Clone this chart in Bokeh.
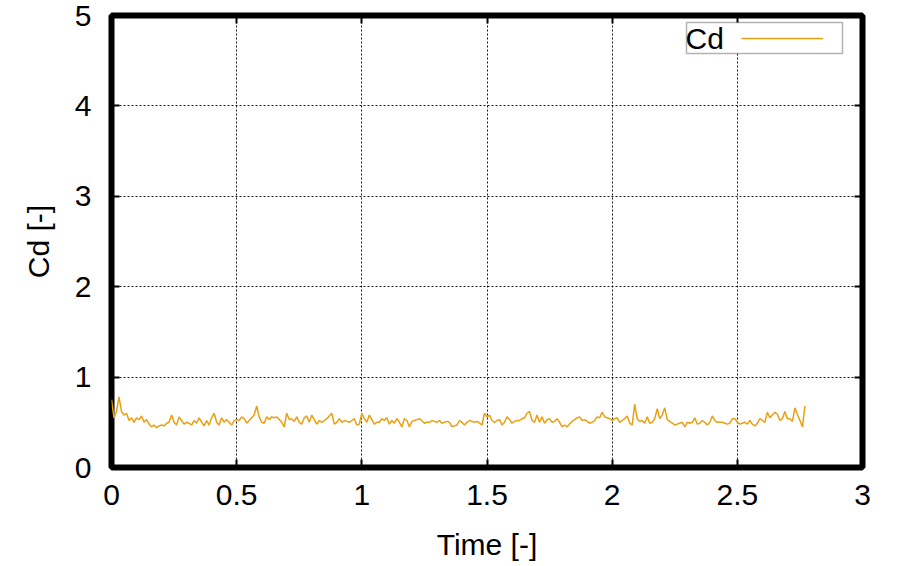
import numpy as np
from bokeh.plotting import figure
from bokeh.models import (LinearAxis, FixedTicker, Legend, LegendItem, Label,
                          BoxAnnotation, Range1d)
from bokeh.embed import file_html
from bokeh.resources import INLINE

# ---- data ----
time_start = 0.0
time_step = 0.01
cd = [
    0.75, 0.55, 0.62, 0.78, 0.62, 0.58, 0.60, 0.52, 0.55, 0.50,
    0.55, 0.53, 0.57, 0.50, 0.53, 0.48, 0.45, 0.47, 0.44, 0.46,
    0.47, 0.46, 0.49, 0.50, 0.58, 0.50, 0.47, 0.56, 0.52, 0.48,
    0.50, 0.49, 0.47, 0.52, 0.49, 0.55, 0.50, 0.46, 0.52, 0.47,
    0.55, 0.60, 0.50, 0.47, 0.55, 0.50, 0.53, 0.50, 0.47, 0.52,
    0.53, 0.52, 0.56, 0.54, 0.49, 0.52, 0.55, 0.58, 0.68, 0.56,
    0.50, 0.49, 0.56, 0.53, 0.56, 0.55, 0.56, 0.53, 0.50, 0.45,
    0.60, 0.53, 0.54, 0.51, 0.56, 0.50, 0.48, 0.55, 0.57, 0.50,
    0.58, 0.53, 0.48, 0.52, 0.50, 0.52, 0.54, 0.57, 0.60, 0.48,
    0.50, 0.54, 0.50, 0.52, 0.51, 0.50, 0.52, 0.54, 0.47, 0.48,
    0.60, 0.54, 0.50, 0.58, 0.53, 0.48, 0.50, 0.50, 0.54, 0.52,
    0.55, 0.48, 0.52, 0.49, 0.54, 0.50, 0.45, 0.54, 0.52, 0.45,
    0.51, 0.52, 0.53, 0.54, 0.52, 0.49, 0.50, 0.50, 0.52, 0.51,
    0.50, 0.52, 0.49, 0.50, 0.51, 0.50, 0.45, 0.46, 0.47, 0.52,
    0.50, 0.47, 0.50, 0.52, 0.51, 0.50, 0.51, 0.49, 0.47, 0.60,
    0.56, 0.58, 0.52, 0.50, 0.52, 0.53, 0.47, 0.50, 0.56, 0.53,
    0.49, 0.51, 0.52, 0.52, 0.54, 0.55, 0.60, 0.62, 0.52, 0.50,
    0.58, 0.50, 0.56, 0.49, 0.53, 0.54, 0.50, 0.51, 0.54, 0.50,
    0.45, 0.47, 0.45, 0.48, 0.51, 0.53, 0.55, 0.56, 0.52, 0.53,
    0.51, 0.49, 0.50, 0.52, 0.56, 0.55, 0.61, 0.56, 0.55, 0.54,
    0.52, 0.54, 0.55, 0.50, 0.52, 0.54, 0.57, 0.49, 0.47, 0.70,
    0.54, 0.51, 0.52, 0.49, 0.56, 0.49, 0.50, 0.54, 0.65, 0.54,
    0.58, 0.66, 0.53, 0.51, 0.49, 0.47, 0.48, 0.49, 0.50, 0.45,
    0.50, 0.49, 0.50, 0.55, 0.48, 0.49, 0.52, 0.50, 0.47, 0.50,
    0.57, 0.52, 0.50, 0.50, 0.50, 0.49, 0.48, 0.49, 0.54, 0.54,
    0.50, 0.48, 0.49, 0.50, 0.48, 0.52, 0.48, 0.46, 0.49, 0.54,
    0.52, 0.50, 0.61, 0.55, 0.58, 0.61, 0.59, 0.52, 0.54, 0.62,
    0.54, 0.54, 0.51, 0.66, 0.59, 0.52, 0.45, 0.68,
]
time = time_start + time_step * np.arange(len(cd))

x_ticks = [0, 0.5, 1, 1.5, 2, 2.5, 3]
x_labels = ["0", "0.5", "1", "1.5", "2", "2.5", "3"]
y_ticks = [0, 1, 2, 3, 4, 5]
y_labels = ["0", "1", "2", "3", "4", "5"]
x_title = "Time [-]"
y_title = "Cd [-]"
series_name = "Cd"

FONT = "Liberation Sans"
FS = "30px"
LINE_COLOR = "#E9A012"

p = figure(frame_width=751, frame_height=452,
           x_range=Range1d(0, 3), y_range=Range1d(0, 5),
           output_backend="svg", toolbar_location=None,
           min_border_left=111, min_border_right=40,
           min_border_top=15, min_border_bottom=91,
           background_fill_color="white", border_fill_color="white")

p.outline_line_color = "black"
p.outline_line_width = 6

def style_axis(ax, ticks, labels=None, show_labels=True):
    ax.ticker = FixedTicker(ticks=ticks)
    ax.major_tick_in = 8
    ax.major_tick_out = 0
    ax.major_tick_line_width = 2
    ax.major_tick_line_color = "black"
    ax.minor_tick_line_color = None
    ax.axis_line_color = None
    if show_labels:
        ax.major_label_overrides = {t: l for t, l in zip(ticks, labels)}
        ax.major_label_text_font = FONT
        ax.major_label_text_font_size = FS
        ax.major_label_text_color = "black"
        ax.axis_label_text_font = FONT
        ax.axis_label_text_font_size = FS
        ax.axis_label_text_font_style = "normal"
        ax.axis_label_text_color = "black"
    else:
        ax.major_label_text_color = None
        ax.major_label_text_font_size = "1px"
        ax.major_label_standoff = 0

style_axis(p.xaxis[0], x_ticks, x_labels)
style_axis(p.yaxis[0], y_ticks, y_labels)
p.xaxis[0].axis_label = x_title
p.yaxis[0].axis_label = y_title
p.xaxis[0].major_label_standoff = 17
p.xaxis[0].axis_label_standoff = 20
p.yaxis[0].major_label_standoff = 20
p.yaxis[0].axis_label_standoff = 17

top_ax = LinearAxis()
style_axis(top_ax, x_ticks, show_labels=False)
p.add_layout(top_ax, "above")
right_ax = LinearAxis()
style_axis(right_ax, y_ticks, show_labels=False)
p.add_layout(right_ax, "right")

for g in (p.xgrid[0], p.ygrid[0]):
    g.grid_line_color = "black"
    g.grid_line_width = 1
    g.grid_line_dash = "2 2"
    g.grid_line_alpha = 0.9

line = p.line(time, cd, line_color=LINE_COLOR, line_width=1.5)

# legend: box, label on the left, sample line on the right (gnuplot style)
box = BoxAnnotation(left=575, right=731, top=445, bottom=414,
                    left_units="screen", right_units="screen",
                    top_units="screen", bottom_units="screen",
                    fill_color="white", fill_alpha=1.0,
                    line_color="black", line_width=1.5)
p.add_layout(box)
lab = Label(x=574, y=429.5, x_units="screen", y_units="screen", text=series_name,
            text_font=FONT, text_font_size=FS, text_align="left",
            text_baseline="middle", text_color="black")
p.add_layout(lab)
legend = Legend(items=[LegendItem(label=" ", renderers=[line])],
                location=(630, 419), glyph_width=82, glyph_height=20,
                padding=0, margin=0, spacing=0, label_width=0, label_height=0,
                label_standoff=0, label_text_font_size="1px",
                label_text_color=None,
                background_fill_alpha=0, border_line_alpha=0)
p.add_layout(legend)

open("out.html", "w").write(file_html(p, INLINE))
